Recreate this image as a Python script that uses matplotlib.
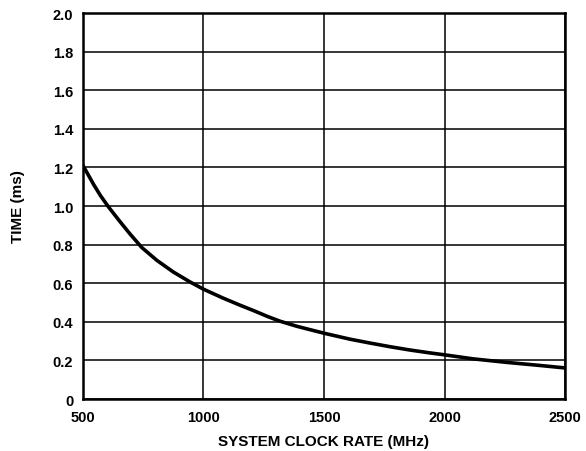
import matplotlib
matplotlib.use("Agg")
import matplotlib.pyplot as plt
import matplotlib.ticker as ticker

# values
clock_mhz = [500, 544, 572, 606, 655, 696, 744, 807, 875, 945, 1000,
             1083, 1150, 1210, 1265, 1318, 1387, 1440, 1500, 1566, 1608,
             1691, 1774, 1856, 1939, 2000, 2119, 2257, 2395, 2500]
time_ms = [1.21, 1.112, 1.055, 0.995, 0.917, 0.854, 0.785, 0.718, 0.658,
           0.606, 0.569, 0.522, 0.487, 0.457, 0.428, 0.403, 0.377, 0.360,
           0.341, 0.322, 0.310, 0.290, 0.271, 0.254, 0.239, 0.229, 0.208,
           0.190, 0.174, 0.161]

x_ticks = [500, 1000, 1500, 2000, 2500]
y_ticks = [0, 0.2, 0.4, 0.6, 0.8, 1.0, 1.2, 1.4, 1.6, 1.8, 2.0]
y_labels = ["0", "0.2", "0.4", "0.6", "0.8", "1.0", "1.2", "1.4", "1.6", "1.8", "2.0"]

plt.rcParams['font.family'] = ['Liberation Sans', 'DejaVu Sans']
plt.rcParams['font.weight'] = 'bold'

fig = plt.figure(figsize=(5.86, 4.52), dpi=100)
ax = fig.add_axes([0.1416, 0.115, 0.8226, 0.854])

ax.plot(clock_mhz, time_ms, color='black', lw=2.6, solid_joinstyle='round')

ax.set_xlim(500, 2500)
ax.set_ylim(0, 2.0)
ax.xaxis.set_major_locator(ticker.FixedLocator(x_ticks))
ax.set_yticks(y_ticks)
ax.set_yticklabels(y_labels)
ax.tick_params(length=0, labelsize=10.5)
ax.tick_params(axis='x', pad=8)
ax.tick_params(axis='y', pad=7)
for lab in ax.get_xticklabels() + ax.get_yticklabels():
    lab.set_fontweight('bold')

ax.grid(True, color='black', lw=1.1)
for s in ax.spines.values():
    s.set_linewidth(1.8)

ax.set_xlabel('SYSTEM CLOCK RATE (MHz)', fontsize=11, fontweight='bold', labelpad=7)
ax.set_ylabel('TIME (ms)', fontsize=11, fontweight='bold')
ax.yaxis.set_label_coords(-0.12, 0.5)

fig.savefig('out.png', dpi=100)
